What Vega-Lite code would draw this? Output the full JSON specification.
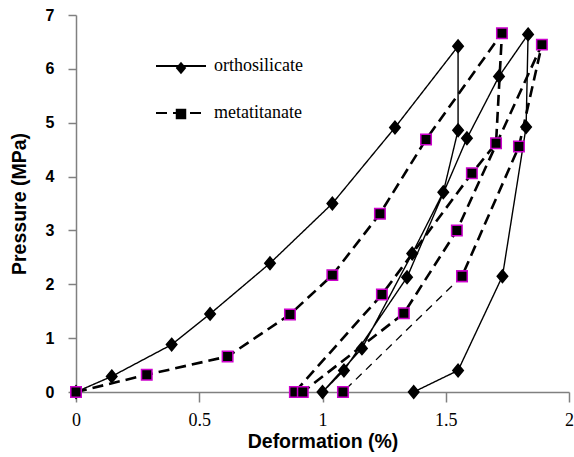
{
  "$schema": "https://vega.github.io/schema/vega-lite/v6.json",
  "width": 493,
  "height": 377,
  "autosize": {"type": "none"},
  "padding": {"left": 76, "top": 15, "right": 5, "bottom": 65},
  "background": "white",
  "config": {
    "view": {"stroke": null},
    "axis": {
      "grid": false,
      "labelFlush": false,
      "domainColor": "#808080",
      "domainWidth": 1.5,
      "tickColor": "#808080",
      "tickWidth": 1.5,
      "labelColor": "black",
      "titleColor": "black",
      "titleFont": "Liberation Sans",
      "titleFontWeight": "bold",
      "titleFontSize": 19.5
    }
  },
  "data": {
    "values": [
      {"s": "orthosilicate", "seg": "o", "k": 1, "x": 0, "y": 0},
      {"s": "orthosilicate", "seg": "o", "k": 2, "x": 0.145, "y": 0.29},
      {"s": "orthosilicate", "seg": "o", "k": 3, "x": 0.388, "y": 0.88},
      {"s": "orthosilicate", "seg": "o", "k": 4, "x": 0.544, "y": 1.45},
      {"s": "orthosilicate", "seg": "o", "k": 5, "x": 0.787, "y": 2.39},
      {"s": "orthosilicate", "seg": "o", "k": 6, "x": 1.04, "y": 3.5},
      {"s": "orthosilicate", "seg": "o", "k": 7, "x": 1.294, "y": 4.91},
      {"s": "orthosilicate", "seg": "o", "k": 8, "x": 1.55, "y": 6.42},
      {"s": "orthosilicate", "seg": "o", "k": 9, "x": 1.55, "y": 4.86},
      {"s": "orthosilicate", "seg": "o", "k": 10, "x": 1.49, "y": 3.71},
      {"s": "orthosilicate", "seg": "o", "k": 11, "x": 1.364, "y": 2.57},
      {"s": "orthosilicate", "seg": "o", "k": 12, "x": 1.16, "y": 0.81},
      {"s": "orthosilicate", "seg": "o", "k": 13, "x": 1.0, "y": 0},
      {"s": "orthosilicate", "seg": "o", "k": 14, "x": 1.087, "y": 0.4},
      {"s": "orthosilicate", "seg": "o", "k": 15, "x": 1.343, "y": 2.13},
      {"s": "orthosilicate", "seg": "o", "k": 16, "x": 1.586, "y": 4.71},
      {"s": "orthosilicate", "seg": "o", "k": 17, "x": 1.716, "y": 5.86},
      {"s": "orthosilicate", "seg": "o", "k": 18, "x": 1.834, "y": 6.64},
      {"s": "orthosilicate", "seg": "o", "k": 19, "x": 1.826, "y": 4.92},
      {"s": "orthosilicate", "seg": "o", "k": 20, "x": 1.73, "y": 2.15},
      {"s": "orthosilicate", "seg": "o", "k": 21, "x": 1.55, "y": 0.4},
      {"s": "orthosilicate", "seg": "o", "k": 22, "x": 1.37, "y": 0},
      {"s": "metatitanate", "seg": "m", "k": 1, "x": 0, "y": 0},
      {"s": "metatitanate", "seg": "m", "k": 2, "x": 0.287, "y": 0.32},
      {"s": "metatitanate", "seg": "m", "k": 3, "x": 0.615, "y": 0.66},
      {"s": "metatitanate", "seg": "m", "k": 4, "x": 0.868, "y": 1.44},
      {"s": "metatitanate", "seg": "m", "k": 5, "x": 1.04, "y": 2.17},
      {"s": "metatitanate", "seg": "m", "k": 6, "x": 1.233, "y": 3.31},
      {"s": "metatitanate", "seg": "m", "k": 7, "x": 1.42, "y": 4.69},
      {"s": "metatitanate", "seg": "m", "k": 8, "x": 1.728, "y": 6.66},
      {"s": "metatitanate", "seg": "m", "k": 9, "x": 1.704, "y": 4.62},
      {"s": "metatitanate", "seg": "m", "k": 10, "x": 1.606, "y": 4.06},
      {"s": "metatitanate", "seg": "m", "k": 11, "x": 1.241, "y": 1.81},
      {"s": "metatitanate", "seg": "m", "k": 12, "x": 0.888, "y": 0},
      {"s": "metatitanate", "seg": "m", "k": 13, "x": 0.92, "y": 0},
      {"s": "metatitanate", "seg": "m", "k": 14, "x": 1.33, "y": 1.46},
      {"s": "metatitanate", "seg": "m", "k": 15, "x": 1.545, "y": 3.0},
      {"s": "metatitanate", "seg": "m", "k": 16, "x": 1.89, "y": 6.45},
      {"s": "metatitanate", "seg": "m", "k": 17, "x": 1.797, "y": 4.56},
      {"s": "metatitanate", "seg": "m", "k": 18, "x": 1.566, "y": 2.15},
      {"s": "metatitanate", "seg": "t", "k": 18, "x": 1.566, "y": 2.15},
      {"s": "metatitanate", "seg": "t", "k": 19, "x": 1.083, "y": 0}
    ]
  },
  "encoding": {
    "x": {
      "field": "x", "type": "quantitative",
      "scale": {"domain": [0, 2], "nice": false},
      "axis": {
        "title": "Deformation (%)",
        "values": [0, 0.5, 1, 1.5, 2],
        "format": "~g",
        "tickSize": 10,
        "labelFont": "Liberation Serif",
        "labelFontSize": 18,
        "labelPadding": 9,
        "titlePadding": 3
      }
    },
    "y": {
      "field": "y", "type": "quantitative",
      "scale": {"domain": [0, 7], "nice": false},
      "axis": {
        "title": "Pressure (MPa)",
        "values": [0, 1, 2, 3, 4, 5, 6, 7],
        "tickSize": 8,
        "labelFont": "Liberation Sans",
        "labelFontWeight": "bold",
        "labelFontSize": 16,
        "labelPadding": 14,
        "titlePadding": 16
      }
    }
  },
  "layer": [
    {
      "transform": [{"filter": "datum.seg !== 't'"}],
      "mark": {"type": "line", "color": "black"},
      "encoding": {
        "order": {"field": "k", "type": "quantitative"},
        "strokeDash": {
          "field": "s", "type": "nominal",
          "scale": {"domain": ["orthosilicate", "metatitanate"], "range": [[1, 0], [11, 6]]},
          "legend": {
            "orient": "none", "legendX": 79, "legendY": 25,
            "title": null, "padding": 0,
            "symbolType": "stroke", "symbolSize": 2500,
            "symbolStrokeColor": "black", "symbolStrokeWidth": 1.8,
            "labelFont": "Liberation Serif", "labelFontSize": 18,
            "labelColor": "black", "labelOffset": 7, "rowPadding": 12
          }
        },
        "strokeWidth": {
          "condition": {"test": "datum.s === 'metatitanate'", "value": 2.6},
          "value": 1.4
        }
      }
    },
    {
      "transform": [{"filter": "datum.seg === 't'"}],
      "mark": {"type": "line", "color": "black", "strokeWidth": 1.3, "strokeDash": [8, 6]},
      "encoding": {
        "order": {"field": "k", "type": "quantitative"}
      }
    },
    {
      "mark": {"type": "point", "filled": true, "fill": "black", "fillOpacity": 1, "opacity": 1, "strokeWidth": 1.5, "size": 110},
      "encoding": {
        "shape": {
          "field": "s", "type": "nominal",
          "sort": ["orthosilicate", "metatitanate"],
          "scale": {"range": ["M0,-1.2L1,0L0,1.2L-1,0Z", "square"]},
          "legend": {
            "orient": "none", "legendX": 96, "legendY": 44,
            "title": null, "padding": 0,
            "symbolSize": 110, "symbolFillColor": "black", "symbolStrokeWidth": 1.5,
            "symbolStrokeColor": {"expr": "datum.value === 'metatitanate' ? '#CC00CC' : 'black'"},
            "labelFont": "Liberation Serif", "labelFontSize": 18,
            "labelExpr": "''", "labelOffset": 7, "rowPadding": 27
          }
        },
        "stroke": {
          "condition": {"test": "datum.s === 'metatitanate'", "value": "#CC00CC"},
          "value": "black"
        }
      }
    }
  ]
}
